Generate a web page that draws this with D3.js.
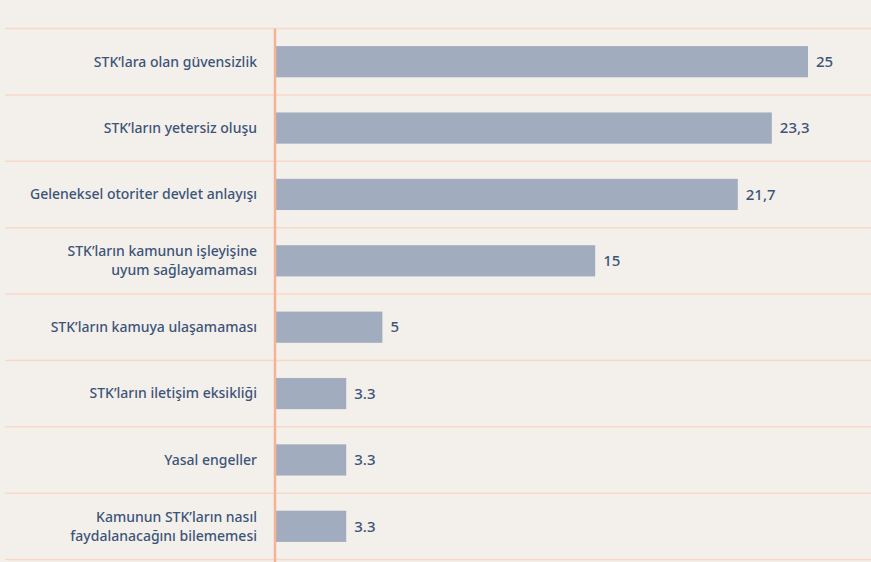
<!DOCTYPE html>
<html>
<head>
<meta charset="utf-8">
<title>STK</title>
<script src="https://cdn.jsdelivr.net/npm/d3@7"></script>
<style>
  body { margin: 0; background: #f3f0eb; }
  svg { display: block; }
</style>
</head>
<body>
<script>
// kategoriler (her satır bir dizi, iki satırlı etiketler için)
var categories = [
    ["STK\u2019lara olan güvensizlik"],
    ["STK\u2019ların yetersiz oluşu"],
    ["Geleneksel otoriter devlet anlayışı"],
    ["STK\u2019ların kamunun işleyişine", "uyum sağlayamaması"],
    ["STK\u2019ların kamuya ulaşamaması"],
    ["STK\u2019ların iletişim eksikliği"],
    ["Yasal engeller"],
    ["Kamunun STK\u2019ların nasıl", "faydalanacağını bilememesi"]
];
var values = [25, 23.3, 21.7, 15, 5, 3.3, 3.3, 3.3];
var valueLabels = ["25", "23,3", "21,7", "15", "5", "3.3", "3.3", "3.3"];

var width = 871, height = 562;
var x0 = 276, yTop = 28.5, yBottom = 559.5;

var svg = d3.select("body").append("svg")
    .attr("width", width).attr("height", height)
    .style("background", "#f3f0eb");

var yScale = d3.scaleBand()
    .domain(d3.range(categories.length))
    .range([yTop, yBottom])
    .paddingInner(0.53)
    .paddingOuter(0.265);

var xScale = d3.scaleLinear().domain([0, 25]).range([x0, 808]);

var step = yScale.step();

// yatay çizgiler
var lines = d3.range(categories.length + 1).map(function(i){ return yTop + i * step; });
svg.selectAll("line.grid")
    .data(lines)
    .enter().append("line")
    .attr("class", "grid")
    .attr("x1", 5).attr("x2", width)
    .attr("y1", function(d){ return d; })
    .attr("y2", function(d){ return d; })
    .attr("stroke", "#f8d8c8")
    .attr("stroke-width", 1.5);

// barlar
svg.selectAll("rect.bar")
    .data(values)
    .enter().append("rect")
    .attr("class", "bar")
    .attr("x", xScale(0))
    .attr("y", function(d, i){ return yScale(i); })
    .attr("width", function(d){ return xScale(d) - xScale(0); })
    .attr("height", yScale.bandwidth())
    .attr("fill", "#a1acbe");

// dikey eksen çizgisi
svg.append("line")
    .attr("x1", 275).attr("x2", 275)
    .attr("y1", yTop).attr("y2", height)
    .attr("stroke", "#f5b396")
    .attr("stroke-width", 2.5);

var textColor = "#3d5479";
var font = "'Noto Sans', sans-serif";

// değer etiketleri
svg.selectAll("text.val")
    .data(values)
    .enter().append("text")
    .attr("class", "val")
    .attr("x", function(d){ return xScale(d) + 8; })
    .attr("y", function(d, i){ return yScale(i) + yScale.bandwidth() / 2; })
    .attr("dy", "0.35em")
    .attr("fill", textColor)
    .style("font-family", font)
    .style("font-size", "15px")
    .style("font-weight", 500)
    .text(function(d, i){ return valueLabels[i]; });

// kategori etiketleri
var lab = svg.selectAll("text.cat")
    .data(categories)
    .enter().append("text")
    .attr("class", "cat")
    .attr("text-anchor", "end")
    .attr("fill", textColor)
    .style("font-family", font)
    .style("font-size", "14px")
    .style("font-weight", 500)
    .attr("y", function(d, i){ return yScale(i) + yScale.bandwidth() / 2; });

lab.selectAll("tspan")
    .data(function(d){ return d.map(function(s, j){ return {s: s, j: j, n: d.length}; }); })
    .enter().append("tspan")
    .attr("x", 257)
    .attr("dy", function(t){
        if (t.j == 0) return (0.35 - (t.n - 1) * 0.68) + "em";
        return "1.36em";
    })
    .text(function(t){ return t.s; });
</script>
</body>
</html>
